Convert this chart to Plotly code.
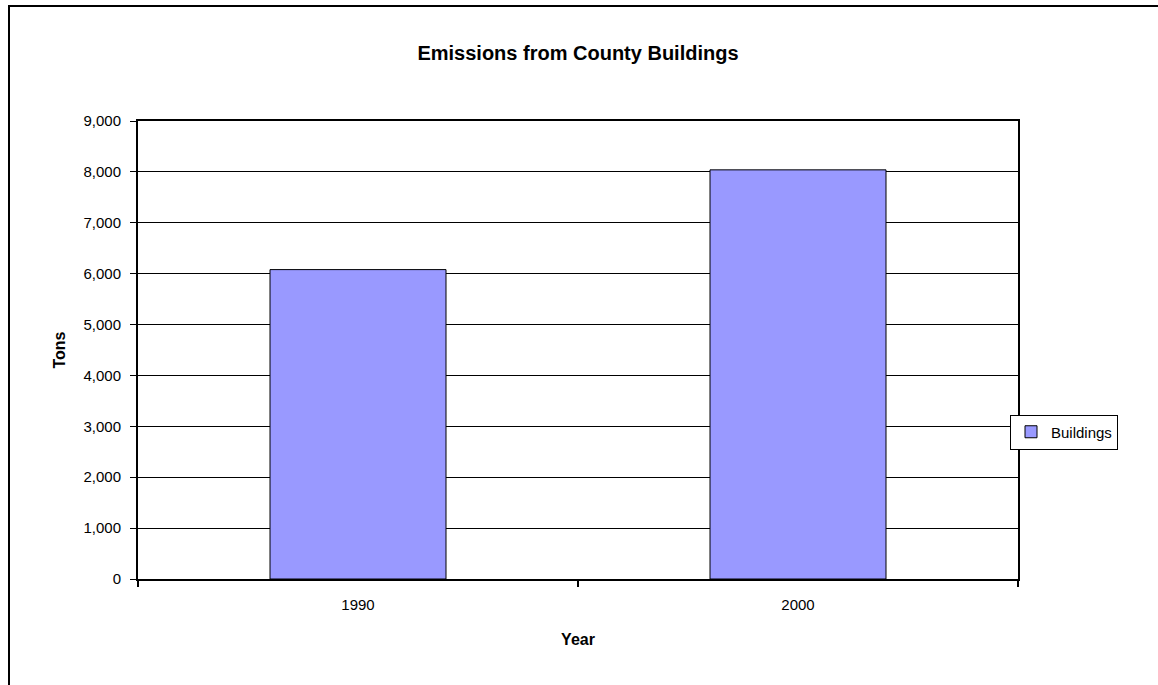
import plotly.graph_objects as go

# Emissions data
years = ["1990", "2000"]
tons = [6080, 8040]
series_name = "Buildings"

y_ticks = list(range(0, 9001, 1000))
y_tick_text = [f"{v:,}" for v in y_ticks]

fig = go.Figure()
fig.add_trace(go.Bar(
    x=years,
    y=tons,
    name=series_name,
    marker=dict(color="#9999FF", line=dict(color="black", width=1)),
    showlegend=True,
))

font_family = "Liberation Sans, Arial, sans-serif"

fig.update_layout(
    width=1158,
    height=685,
    margin=dict(l=138, r=140, t=121, b=106),
    paper_bgcolor="white",
    plot_bgcolor="white",
    bargap=0.6,
    font=dict(family=font_family, size=15, color="black"),
    title=dict(
        text="<b>Emissions from County Buildings</b>",
        x=0.5, xanchor="center", xref="paper",
        y=1 - 53 / 685, yanchor="middle", yref="container",
        font=dict(size=20, family=font_family, color="black"),
    ),
    xaxis=dict(
        type="category",
        showline=True, linecolor="black", linewidth=2, mirror=True,
        ticks="outside", tickson="boundaries", ticklen=6, tickcolor="black", tickwidth=2,
        ticklabelstandoff=11,
        showgrid=False,
        title=dict(text="<b>Year</b>", standoff=22, font=dict(size=16)),
    ),
    yaxis=dict(
        range=[0, 9000],
        tickvals=y_ticks, ticktext=y_tick_text,
        showline=True, linecolor="black", linewidth=2, mirror=True,
        ticks="outside", ticklen=6, tickcolor="black", tickwidth=1,
        ticklabelstandoff=6,
        showgrid=True, gridcolor="black", gridwidth=1,
        zeroline=False,
        title=dict(text="<b>Tons</b>", standoff=14, font=dict(size=16)),
    ),
    legend=dict(
        x=(1010 - 138) / 880, xanchor="left",
        y=(579 - 432) / 458, yanchor="middle",
        bordercolor="black", borderwidth=1,
        bgcolor="white",
        font=dict(size=15),
        itemwidth=30,
    ),
    shapes=[
        dict(
            type="rect", xref="paper", yref="paper",
            x0=(9 - 138) / 880, x1=(1200 - 138) / 880,
            y0=(579 - 720) / 458, y1=(579 - 6) / 458,
            line=dict(color="black", width=2),
            fillcolor="rgba(0,0,0,0)",
            layer="below",
        )
    ],
)

fig.write_html("out.html")
